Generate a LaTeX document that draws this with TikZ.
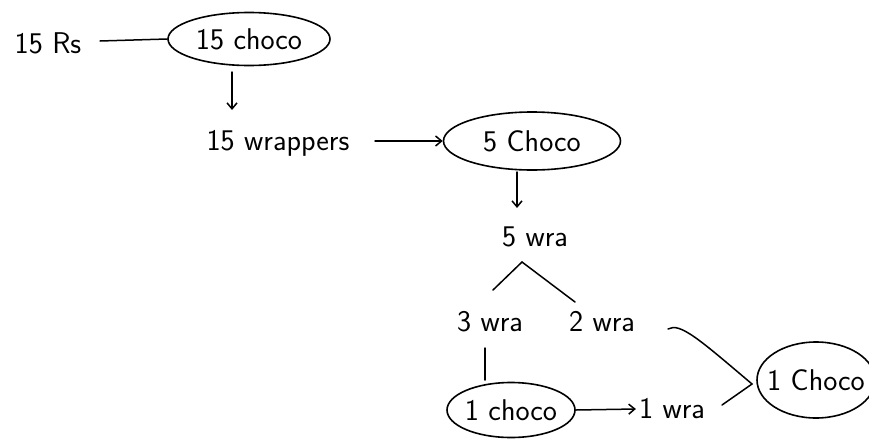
\documentclass[tikz,border=0pt]{standalone}
\usetikzlibrary{arrows.meta,shapes.geometric}
\tikzset{
  lbl/.style={inner sep=0pt, font=\sffamily\fontsize{30}{32}\selectfont},
  oval/.style={ellipse, draw, line width=1.6pt, inner xsep=-20pt, inner ysep=-6pt},
  pen/.style={line width=1.5pt, line cap=round},
  arr/.style={pen, -{Straight Barb[length=6pt,width=10pt]}}
}
\begin{document}
\begin{tikzpicture}[x=1pt,y=-1pt]
\useasboundingbox (0,0) rectangle (869,442);

% first purchase
\node[lbl] (rs) at (48,43) {15 Rs};
\node[lbl, oval, minimum width=162, minimum height=53] (c15) at (249,39) {15 choco};
\coordinate (rsend) at (100,41);
\draw[pen] (rsend) -- (c15.west);

% wrappers from the first batch
\node[lbl] (w15) at (278,143) {15 wrappers};
\coordinate (c15b) at (232,72);
\coordinate (w15t) at (232,110);
\draw[arr] (c15b) -- (w15t);
\node[lbl, oval, minimum width=177, minimum height=58] (c5) at (532,141) {5 Choco};
\coordinate (w15e) at (375,141);
\draw[arr] (w15e) -- (c5.west);

% wrappers from the second batch
\node[lbl] (w5) at (535,237) {5 wra};
\coordinate (c5b) at (517,172);
\coordinate (w5t) at (517,208);
\draw[arr] (c5b) -- (w5t);

% split into 3 and 2
\node[lbl] (w3) at (490,322) {3 wra};
\node[lbl] (w2) at (602,322) {2 wra};
\coordinate (apex) at (522,262);
\coordinate (lft) at (493,290);
\coordinate (rgt) at (575,302);
\draw[pen] (lft) -- (apex) -- (rgt);

% 3 wrappers give one chocolate
\node[lbl, oval, minimum width=128, minimum height=55] (c1a) at (511,410) {1 choco};
\coordinate (w3b) at (485,348);
\coordinate (c1at) at (485,380);
\draw[pen] (w3b) -- (c1at);

\node[lbl] (w1) at (672,409) {1 wra};
\draw[arr] (c1a.east) -- ([xshift=-3pt]w1.west);

% 2 + 1 wrappers give the last chocolate
\node[lbl, oval, minimum width=118, minimum height=76] (c1b) at (816,380) {1 Choco};
\coordinate (join) at (752,384);
\coordinate (w2e) at (668,329);
\coordinate (w1e) at (722,405);
\draw[pen] (w2e) .. controls (680,322) and (700,340) .. (join) -- (w1e);
\end{tikzpicture}
\end{document}
